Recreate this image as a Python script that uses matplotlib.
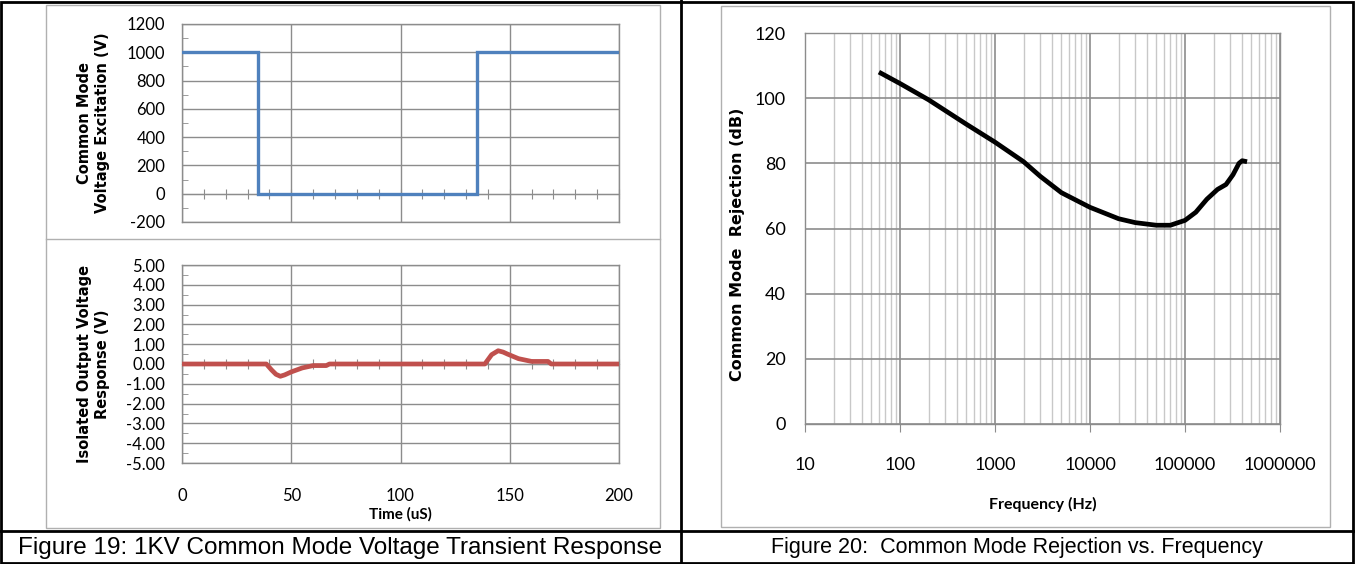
import numpy as np
import matplotlib
matplotlib.use("Agg")
import matplotlib.pyplot as plt
from matplotlib.patches import Rectangle
from matplotlib.lines import Line2D
from matplotlib.ticker import MultipleLocator, FixedLocator, NullFormatter, LogLocator

plt.rcParams['axes.unicode_minus'] = False

# ---- data ----
step_t = [0, 35, 35, 135, 135, 200]
step_v = [1000, 1000, 0, 0, 1000, 1000]

resp_t = [0, 38.6, 41, 43, 45, 47, 50, 55, 60, 66, 67.5, 138.6, 141.7, 144.7, 147, 149, 154, 160, 167.5, 169, 200]
resp_v = [0, 0, -0.3, -0.52, -0.62, -0.55, -0.4, -0.2, -0.08, -0.08, 0, 0, 0.47, 0.67, 0.6, 0.5, 0.27, 0.13, 0.13, 0, 0]

freq_hz = [60, 100, 200, 500, 1000, 2000, 3000, 5000, 10000, 20000, 30000, 50000,
           70000, 100000, 130000, 170000, 220000, 270000, 320000, 370000, 400000, 450000]
cmr_db = [108, 104.5, 99.5, 92, 86.5, 80.5, 76, 71, 66.5, 63, 61.8, 61,
          61, 62.5, 65, 69, 72, 73.5, 76.5, 80, 80.8, 80.5]

captions = ["Figure 19: 1KV Common Mode Voltage Transient Response",
            "Figure 20:  Common Mode Rejection vs. Frequency"]

W, H = 1355, 564
fig = plt.figure(figsize=(W / 100, H / 100), dpi=100)

tick_font = ['Lato', 'DejaVu Sans']
GRID = '#8c8c8c'
MINOR = '#c8c8c8'


def px_axes(x0, y0, x1, y1):
    return fig.add_axes([x0 / W, 1 - y1 / H, (x1 - x0) / W, (y1 - y0) / H])


def style(ax, size=12):
    for s in ax.spines.values():
        s.set_color(GRID)
        s.set_linewidth(1)
    for lab in ax.get_xticklabels() + ax.get_yticklabels():
        lab.set_family(tick_font)
        lab.set_fontsize(size)


# ---- frames ----
fig.add_artist(Rectangle((1 / W, 1 / H), (W - 3) / W, (H - 3) / H, transform=fig.transFigure,
                         fill=False, ec='black', lw=2))
fig.add_artist(Line2D([681 / W, 681 / W], [0, 1], transform=fig.transFigure, color='black', lw=2))
fig.add_artist(Line2D([0, 1], [1 - 531 / H, 1 - 531 / H], transform=fig.transFigure, color='black', lw=2))
fig.add_artist(Rectangle((46 / W, 1 - 528 / H), (660 - 46) / W, (528 - 5) / H, transform=fig.transFigure,
                         fill=False, ec='#b0b0b0', lw=1))
fig.add_artist(Line2D([46 / W, 660 / W], [1 - 239 / H, 1 - 239 / H], transform=fig.transFigure,
                      color='#b0b0b0', lw=1))
fig.add_artist(Rectangle((721 / W, 1 - 527 / H), (1330 - 721) / W, (527 - 6) / H, transform=fig.transFigure,
                         fill=False, ec='#b0b0b0', lw=1))

# ---- top-left: excitation ----
ax1 = px_axes(182, 24, 619, 222)
ax1.plot(step_t, step_v, color='#4F81BD', lw=2.4, solid_joinstyle='miter', zorder=3)
ax1.set_xlim(0, 200)
ax1.set_ylim(-200, 1200)
ax1.yaxis.set_major_locator(MultipleLocator(200))
ax1.yaxis.set_minor_locator(MultipleLocator(100))
ax1.xaxis.set_major_locator(MultipleLocator(50))
ax1.xaxis.set_major_formatter(NullFormatter())
ax1.grid(True, which='major', color=GRID, lw=1)
ax1.tick_params(axis='x', length=0)
ax1.tick_params(axis='y', which='major', length=0, pad=12)
ax1.tick_params(axis='y', which='minor', direction='in', length=4, color=GRID)
ax1.set_ylabel("Common Mode\nVoltage Excitation (V)", fontweight='bold', fontsize=10.5, linespacing=1.25)
ax1.yaxis.set_label_coords(-0.165, 0.5)
style(ax1)
sec1 = ax1.secondary_xaxis(1 / 7)
sec1.xaxis.set_major_locator(MultipleLocator(10))
sec1.xaxis.set_major_formatter(NullFormatter())
sec1.tick_params(direction='inout', length=7, color=GRID)
sec1.spines['bottom'].set_color(GRID)

# ---- bottom-left: response ----
ax2 = px_axes(182, 265, 619, 463)
ax2.plot(resp_t, resp_v, color='#C0504D', lw=3.4, zorder=3)
ax2.set_xlim(0, 200)
ax2.set_ylim(-5, 5)
ax2.yaxis.set_major_locator(MultipleLocator(1))
ax2.yaxis.set_minor_locator(MultipleLocator(0.5))
ax2.yaxis.set_major_formatter(lambda v, p: f"{v:.2f}")
ax2.xaxis.set_major_locator(MultipleLocator(50))
ax2.grid(True, which='major', color=GRID, lw=1)
ax2.tick_params(axis='x', length=0, pad=18)
ax2.tick_params(axis='y', which='major', length=0, pad=12)
ax2.tick_params(axis='y', which='minor', direction='in', length=4, color=GRID)
ax2.set_ylabel("Isolated Output Voltage\nResponse (V)", fontweight='bold', fontsize=10.5, linespacing=1.25)
ax2.yaxis.set_label_coords(-0.165, 0.5)
ax2.set_xlabel("Time (uS)", fontweight='bold', fontsize=11, family=tick_font)
ax2.xaxis.set_label_coords(0.5, -0.222)
style(ax2)
sec2 = ax2.secondary_xaxis(0.5)
sec2.xaxis.set_major_locator(MultipleLocator(10))
sec2.xaxis.set_major_formatter(NullFormatter())
sec2.tick_params(direction='inout', length=7, color=GRID)
sec2.spines['bottom'].set_color(GRID)

# ---- right: CMR vs frequency ----
ax3 = px_axes(805, 33, 1280, 424)
ax3.plot(freq_hz, cmr_db, color='black', lw=3.4, solid_capstyle='butt', zorder=3)
ax3.set_xscale('log')
ax3.set_xlim(10, 1e6)
ax3.set_ylim(0, 120)
ax3.yaxis.set_major_locator(MultipleLocator(20))
ax3.xaxis.set_major_locator(FixedLocator([10, 100, 1000, 10000, 100000, 1000000]))
ax3.xaxis.set_major_formatter(lambda v, p: f"{int(round(v))}")
ax3.xaxis.set_minor_locator(LogLocator(base=10, subs=np.arange(2, 10)))
ax3.xaxis.set_minor_formatter(NullFormatter())
ax3.grid(True, which='major', color=GRID, lw=1.2)
ax3.grid(True, which='minor', axis='x', color=MINOR, lw=1)
ax3.tick_params(axis='x', which='major', direction='out', length=6, color=GRID, pad=18)
ax3.tick_params(axis='x', which='minor', length=0)
ax3.tick_params(axis='y', length=0, pad=14)
ax3.set_ylabel("Common Mode  Rejection (dB)", fontweight='bold', fontsize=11.5)
ax3.yaxis.set_label_coords(-0.126, 0.46)
ax3.set_xlabel("Frequency (Hz)", fontweight='bold', fontsize=11.5, family=tick_font)
ax3.xaxis.set_label_coords(0.5, -0.186)
style(ax3, 13)

# ---- captions ----
fig.text(340 / W, 1 - 548 / H, captions[0], ha='center', va='center', fontsize=17.5, family='Liberation Sans')
fig.text(1017 / W, 1 - 548 / H, captions[1], ha='center', va='center', fontsize=15.5, family='Liberation Sans')

fig.savefig("out.png", dpi=100)
